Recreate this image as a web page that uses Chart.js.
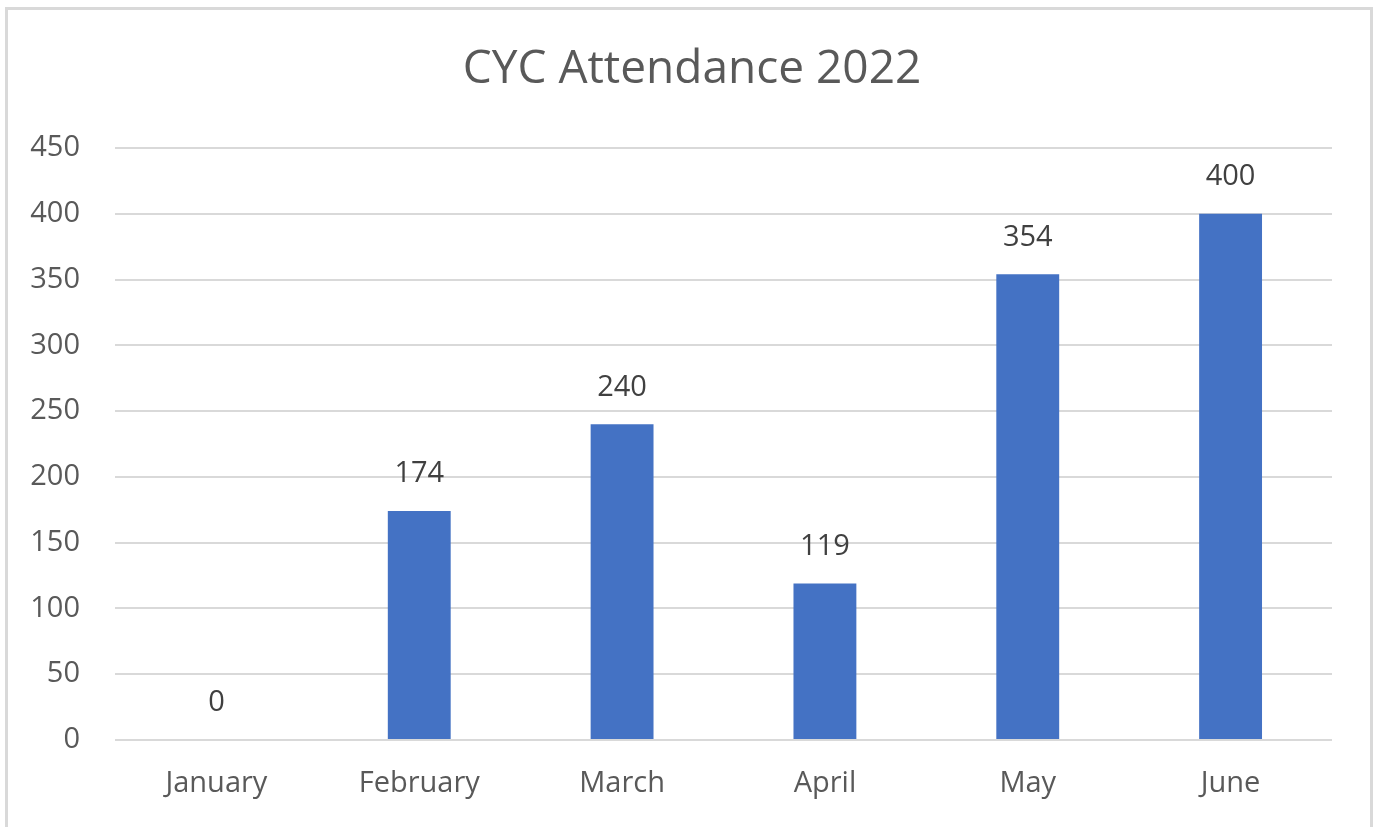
<!DOCTYPE html>
<html>
<head>
<meta charset="utf-8">
<title>CYC Attendance 2022</title>
<script src="https://cdn.jsdelivr.net/npm/chart.js@4.4.0/dist/chart.umd.min.js"></script>
<style>
    html, body { margin: 0; padding: 0; background: #ffffff; overflow: hidden; }
    #wrap { position: relative; width: 1380px; height: 827px; }
    #frame {
        position: absolute; left: 5px; top: 7px; width: 1368px; height: 840px;
        border: 3px solid #d9d9d9; box-sizing: border-box;
    }
    #chart { position: absolute; left: 0; top: 0; }
</style>
</head>
<body>
<div id="wrap">
    <div id="frame"></div>
    <canvas id="chart" width="1380" height="827"></canvas>
</div>
<script>
// Chart data
const chartTitle = 'CYC Attendance 2022';
const months = ['January', 'February', 'March', 'April', 'May', 'June'];
const attendance = [0, 174, 240, 119, 354, 400];
const yTicks = [0, 50, 100, 150, 200, 250, 300, 350, 400, 450];

const FONT = "'Open Sans', 'Liberation Sans', sans-serif";

// Title centred on the whole canvas + value labels above each bar
const chartText = {
    id: 'chartText',
    afterDraw(chart) {
        const ctx = chart.ctx;
        ctx.save();
        ctx.textAlign = 'center';
        ctx.textBaseline = 'middle';

        ctx.font = '46px ' + FONT;
        ctx.fillStyle = '#595959';
        ctx.fillText(chartTitle, chart.width / 2 + 2, 70);

        ctx.font = '29px ' + FONT;
        ctx.fillStyle = '#404040';
        chart.getDatasetMeta(0).data.forEach((bar, i) => {
            ctx.fillText(String(attendance[i]), bar.x, bar.y - 37);
        });
        ctx.restore();
    }
};

new Chart(document.getElementById('chart'), {
    type: 'bar',
    data: {
        labels: months,
        datasets: [{
            label: 'Attendance',
            data: attendance,
            backgroundColor: '#4472C4',
            barPercentage: 0.31,
            categoryPercentage: 1
        }]
    },
    options: {
        responsive: false,
        animation: false,
        layout: { padding: { left: 0, right: 48, top: 148, bottom: 0 } },
        plugins: {
            legend: { display: false },
            tooltip: { enabled: false },
            title: { display: false }
        },
        scales: {
            x: {
                grid: { display: false },
                border: { display: false },
                ticks: {
                    color: '#595959',
                    font: { family: FONT, size: 29 },
                    padding: 18
                },
                afterFit(scale) { scale.height = 87; }
            },
            y: {
                min: 0,
                max: 450,
                afterBuildTicks(scale) {
                    scale.ticks = yTicks.map(v => ({ value: v }));
                },
                grid: { color: '#d9d9d9', lineWidth: 2, drawTicks: false },
                border: { display: false },
                ticks: {
                    color: '#595959',
                    font: { family: FONT, size: 29 },
                    padding: 35
                },
                afterFit(scale) { scale.width = 115; }
            }
        }
    },
    plugins: [chartText]
});
</script>
</body>
</html>
